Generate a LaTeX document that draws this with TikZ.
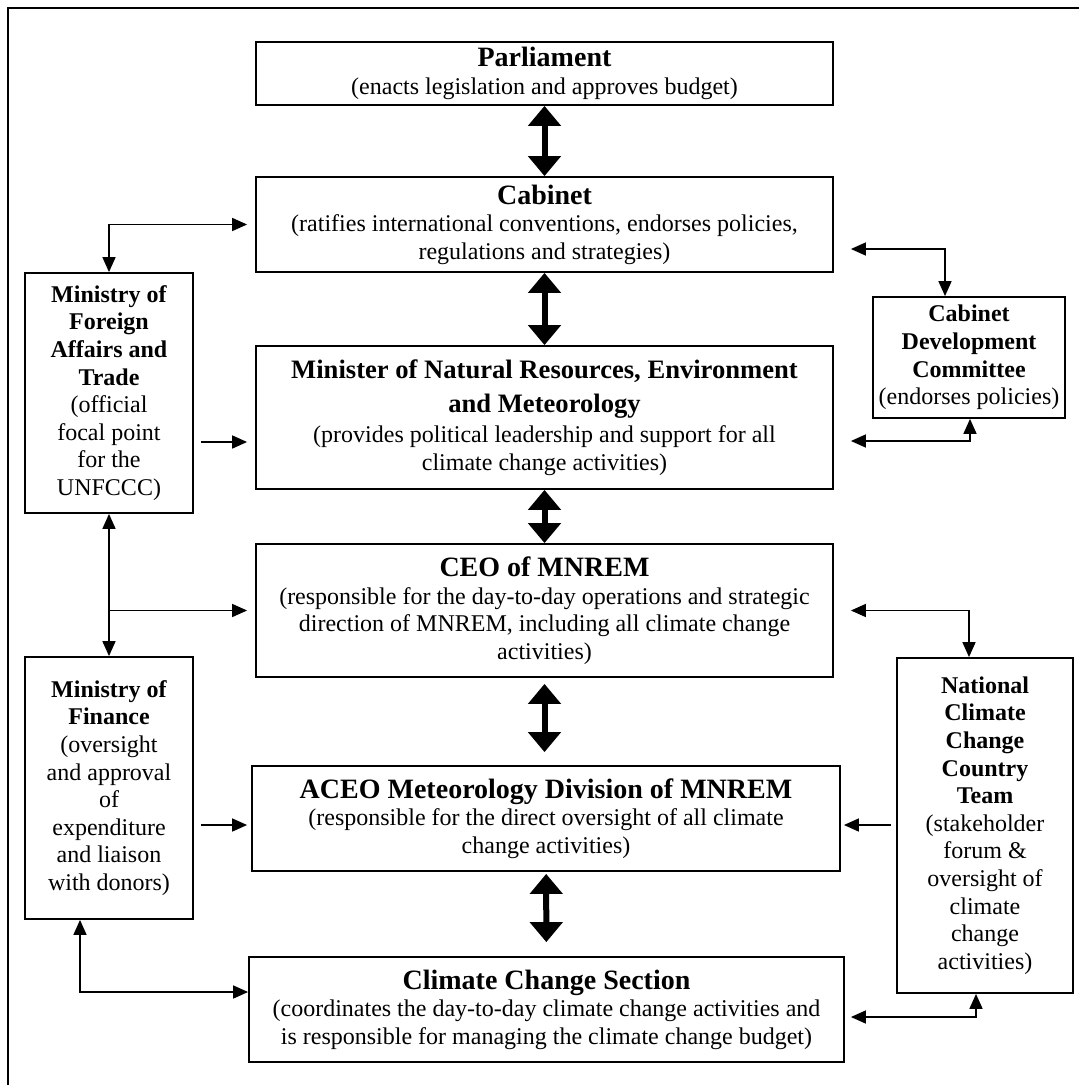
\documentclass[tikz,border=0pt]{standalone}
\usepackage{fontspec}
\setmainfont{Liberation Serif}
\usetikzlibrary{arrows.meta}

\newcommand{\bighead}[1]{\textbf{\fontsize{14}{16}\selectfont #1}}

\begin{document}
\begin{tikzpicture}[x=0.5pt, y=-0.5pt, >={Triangle[length=7.5pt,width=6.5pt]},
  box/.style={draw, line width=0.9pt, inner sep=0pt, align=center, font=\fontsize{12}{13.8}\selectfont},
  conn/.style={line width=0.8pt},
  bigarrow/.style={line width=3pt, {Triangle[length=10pt,width=16pt]}-{Triangle[length=10pt,width=16pt]}}]
  \useasboundingbox (0,0) rectangle (1078,1085);

  % Outer frame (only top and left edge visible)
  \draw[line width=1pt] (8,1090) -- (8,8) -- (1090,8);

  % 1. Central chain
  \node[box, minimum width=288.5pt, minimum height=31.5pt] (parl) at (544.5,73.5)
    {\bighead{Parliament}\\(enacts legislation and approves budget)};
  \node[box, minimum width=288.5pt, minimum height=47.5pt] (cab) at (544.5,224.5)
    {\bighead{Cabinet}\\(ratifies international conventions, endorses policies,\\regulations and strategies)};
  \node[box, minimum width=288.5pt, minimum height=71.5pt] (min) at (544.5,417.5)
    {\textbf{\fontsize{13.3}{16}\selectfont Minister of Natural Resources, Environment}\\[3.5pt]
     \textbf{\fontsize{13.3}{16}\selectfont and Meteorology}\\[1pt]
     (provides political leadership and support for all\\climate change activities)};
  \node[box, minimum width=288.5pt, minimum height=66.5pt] (ceo) at (544.5,610.5)
    {\bighead{CEO of MNREM}\\(responsible for the day-to-day operations and strategic\\direction of MNREM, including all climate change\\activities)};
  \node[box, minimum width=294pt, minimum height=52.5pt] (aceo) at (546,818.5)
    {\bighead{ACEO Meteorology Division of MNREM}\\(responsible for the direct oversight of all climate\\change activities)};
  \node[box, minimum width=297.5pt, minimum height=52.5pt] (ccs) at (546.5,1009.5)
    {\bighead{Climate Change Section}\\(coordinates the day-to-day climate change activities and\\is responsible for managing the climate change budget)};

  % 2. Side boxes
  \node[box, minimum width=84pt, minimum height=120pt] (mfat) at (109,393)
    {\textbf{Ministry of}\\\textbf{Foreign}\\\textbf{Affairs and}\\\textbf{Trade}\\(official\\focal point\\for the\\UNFCCC)};
  \node[box, minimum width=84pt, minimum height=131pt] (mof) at (109,788)
    {\textbf{Ministry of}\\\textbf{Finance}\\(oversight\\and approval\\of\\expenditure\\and liaison\\with donors)};
  \node[box, minimum width=96pt, minimum height=60.5pt] (cdc) at (969,357.5)
    {\textbf{Cabinet}\\\textbf{Development}\\\textbf{Committee}\\(endorses policies)};
  \node[box, minimum width=88pt, minimum height=167.5pt] (nccct) at (985,825.5)
    {\textbf{National}\\\textbf{Climate}\\\textbf{Change}\\\textbf{Country}\\\textbf{Team}\\(stakeholder\\forum \&\\oversight of\\climate\\change\\activities)};

  % 3. Thick arrows down the chain
  \foreach \a/\b in {parl/cab, cab/min, min/ceo}
    \draw[bigarrow] (\a) -- (\b);
  \draw[bigarrow, shorten <=3pt, shorten >=6.5pt] (ceo.south) -- (ceo.south |- aceo.north);
  \draw[bigarrow, shorten <=1pt, shorten >=7pt] (aceo) -- (ccs);

  % 4. Thin connectors, left side
  \draw[conn, <->, shorten >=4pt] (mfat.north) |- (cab.west);
  \draw[conn, ->, shorten <=3.5pt, shorten >=4pt] (mfat.east |- 0,442) -- (min.west |- 0,442);
  \draw[conn, <->] (mfat.south) -- (mof.north);
  \draw[conn, ->, shorten >=4pt] (mfat.south |- ceo.west) -- (ceo.west);
  \draw[conn, ->, shorten <=3.5pt, shorten >=2pt] (mof.east |- 0,825) -- (aceo.west |- 0,825);
  \draw[conn, <->] (mof.south -| 80,0) |- (ccs.west |- 0,992);

  % 5. Thin connectors, right side
  \draw[conn, <->, shorten <=8.5pt] (cab.east |- 0,249) -| (cdc.north -| 945,0);
  \draw[conn, <->, shorten <=8.5pt] (min.east |- 0,441) -| (cdc.south -| 970,0);
  \draw[conn, <->, shorten <=8.5pt] (ceo.east) -| (nccct.north -| 969,0);
  \draw[conn, ->, shorten <=2.5pt, shorten >=1.5pt] (nccct.west |- 0,825) -- (aceo.east |- 0,825);
  \draw[conn, <->, shorten <=3pt] (ccs.east |- 0,1017) -| (nccct.south -| 976,0);
\end{tikzpicture}
\end{document}
